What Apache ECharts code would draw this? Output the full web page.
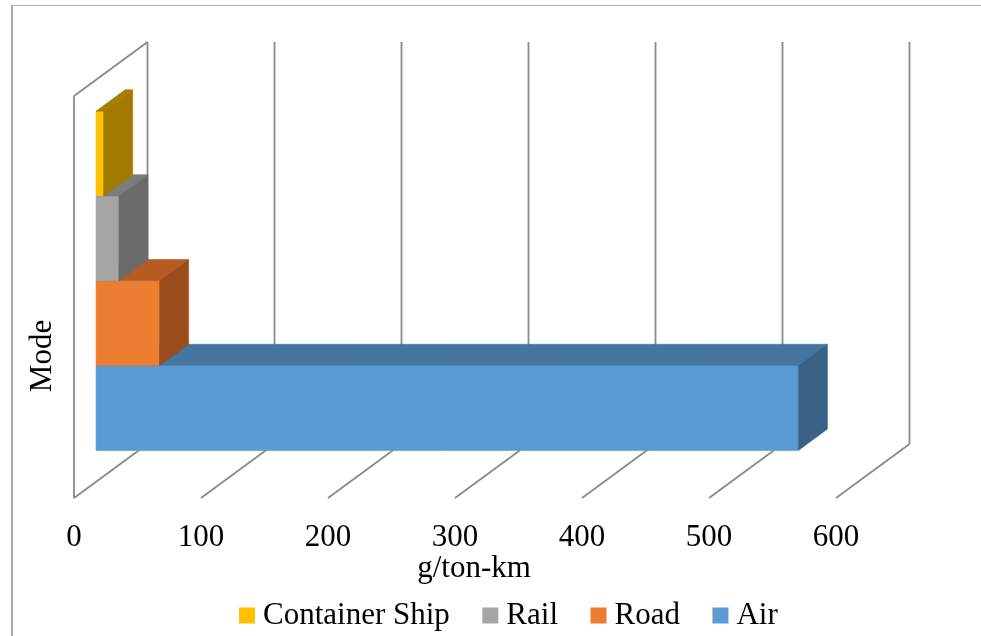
<!DOCTYPE html>
<html>
<head>
<meta charset="utf-8">
<script src="https://cdn.jsdelivr.net/npm/echarts@6/dist/echarts.min.js"></script>
<style>
  html, body { margin: 0; padding: 0; background: #ffffff; }
  #chart { width: 981px; height: 636px; }
</style>
</head>
<body>
<div id="chart"></div>
<script>
// Freight emission intensity by transport mode (g/ton-km)
const modes = ['Container Ship', 'Rail', 'Road', 'Air'];
const emissions = [6, 18, 50, 553];
const xTicks = [0, 100, 200, 300, 400, 500, 600];
const category = ['Mode'];
const axisTitle = 'g/ton-km';

const faceColors = {
  'Container Ship': { front: '#FFC000', top: '#A87E00', side: '#A37A00' },
  'Rail':           { front: '#A5A5A5', top: '#7C7C7C', side: '#6B6B6B' },
  'Road':           { front: '#ED7D31', top: '#B65C22', side: '#9A4D1B' },
  'Air':            { front: '#5B9BD5', top: '#4675A0', side: '#3A6287' }
};

// Oblique projection: the full depth of the plot box as a screen offset
const DEPTH = { dx: 73.5, dy: -54 };
const BAR_FRONT = 0.30;     // depth of the bars' front faces
const BAR_BACK = 0.695;     // depth of the bars' back faces
const BAR_SHARE = 0.211;    // one bar's height as a share of the category band
const FONT = "'Liberation Serif', 'Times New Roman', serif";
const LINE = '#8A8A8A';

function shift(p, f) {
  return [p[0] + DEPTH.dx * f, p[1] + DEPTH.dy * f];
}

function poly(points, color) {
  return {
    type: 'polygon',
    shape: { points: points },
    style: { fill: color, stroke: color, lineWidth: 0.6 }
  };
}

// Draws one 3D bar; slot 0 is the lowest bar of the cluster
function barRenderer(slot, colors) {
  return function (params, api) {
    const v = api.value(0);
    const c0 = api.coord([0, 0]);
    const c1 = api.coord([v, 0]);
    const band = api.size([0, 1])[1];
    const h = band * BAR_SHARE;
    const yB = c0[1] + 2 * h - slot * h;
    const yT = yB - h;
    const flb = shift([c0[0], yB], BAR_FRONT), frb = shift([c1[0], yB], BAR_FRONT);
    const flt = shift([c0[0], yT], BAR_FRONT), frt = shift([c1[0], yT], BAR_FRONT);
    const blt = shift([c0[0], yT], BAR_BACK), brt = shift([c1[0], yT], BAR_BACK);
    const brb = shift([c1[0], yB], BAR_BACK);
    return {
      type: 'group',
      children: [
        poly([flb, frb, frt, flt], colors.front),
        poly([flt, frt, brt, blt], colors.top),
        poly([frb, frt, brt, brb], colors.side)
      ]
    };
  };
}

// Walls and floor lines of the 3D box, one set per axis tick
function frameRenderer(params, api) {
  const t = api.value(0);
  const c = api.coord([t, 0]);
  const band = api.size([0, 1])[1];
  const fb = [c[0], c[1] + band / 2];
  const ft = [c[0], c[1] - band / 2];
  const bb = shift(fb, 1), bt = shift(ft, 1);
  const style = { stroke: LINE, lineWidth: 1.8, fill: null };
  const children = [
    { type: 'line', shape: { x1: fb[0], y1: fb[1], x2: bb[0], y2: bb[1] }, style: style },
    { type: 'line', shape: { x1: bb[0], y1: bb[1], x2: bt[0], y2: bt[1] }, style: style }
  ];
  if (params.dataIndex === 0) {
    children.push({ type: 'line', shape: { x1: fb[0], y1: fb[1], x2: ft[0], y2: ft[1] }, style: style });
    children.push({ type: 'line', shape: { x1: ft[0], y1: ft[1], x2: bt[0], y2: bt[1] }, style: style });
  }
  return { type: 'group', children: children };
}

const chart = echarts.init(document.getElementById('chart'), null, { renderer: 'canvas' });

// bars are stacked bottom-up: Air lowest, Container Ship highest
const barSeries = modes.map(function (name, i) {
  const slot = modes.length - 1 - i;
  return {
    type: 'custom',
    name: name,
    z: 3 + slot,
    clip: false,
    itemStyle: { color: faceColors[name].front },
    encode: { x: 0, y: 1 },
    data: [[emissions[i], 0]],
    renderItem: barRenderer(slot, faceColors[name])
  };
});

const option = {
  animation: false,
  backgroundColor: '#ffffff',
  grid: { left: 74, right: 145, top: 96, bottom: 138, containLabel: false },
  xAxis: {
    type: 'value',
    min: xTicks[0],
    max: xTicks[xTicks.length - 1],
    interval: 100,
    axisLine: { show: false },
    axisTick: { show: false },
    splitLine: { show: false },
    axisLabel: {
      margin: 24,
      color: '#000000',
      fontFamily: FONT,
      fontSize: 31
    }
  },
  yAxis: {
    type: 'category',
    data: category,
    axisLine: { show: false },
    axisTick: { show: false },
    axisLabel: { show: false },
    splitLine: { show: false }
  },
  legend: {
    data: modes,
    left: 234,
    top: 595,
    icon: 'rect',
    itemWidth: 16,
    itemHeight: 16,
    itemGap: 32.5,
    selectedMode: false,
    textStyle: { color: '#000000', fontFamily: FONT, fontSize: 31, padding: [0, 0, 0, 3] }
  },
  graphic: [
    { type: 'line', shape: { x1: 12, y1: 5, x2: 12, y2: 640 }, style: { stroke: '#ABABAB', lineWidth: 2 } },
    { type: 'line', shape: { x1: 12, y1: 5.5, x2: 985, y2: 5.5 }, style: { stroke: '#B4B4B4', lineWidth: 1 } },
    {
      type: 'text', x: 474, y: 569,
      style: { text: axisTitle, fill: '#000000', font: '31px ' + FONT, align: 'center', verticalAlign: 'middle' }
    },
    {
      type: 'text', x: 42.5, y: 356, rotation: Math.PI / 2,
      style: { text: category[0], fill: '#000000', font: '31px ' + FONT, align: 'center', verticalAlign: 'middle' }
    }
  ],
  series: [{
    type: 'custom',
    name: 'frame',
    z: 1,
    clip: false,
    silent: true,
    encode: { x: 0, y: 1 },
    data: xTicks.map(function (t) { return [t, 0]; }),
    renderItem: frameRenderer
  }].concat(barSeries)
};

chart.setOption(option);
</script>
</body>
</html>
